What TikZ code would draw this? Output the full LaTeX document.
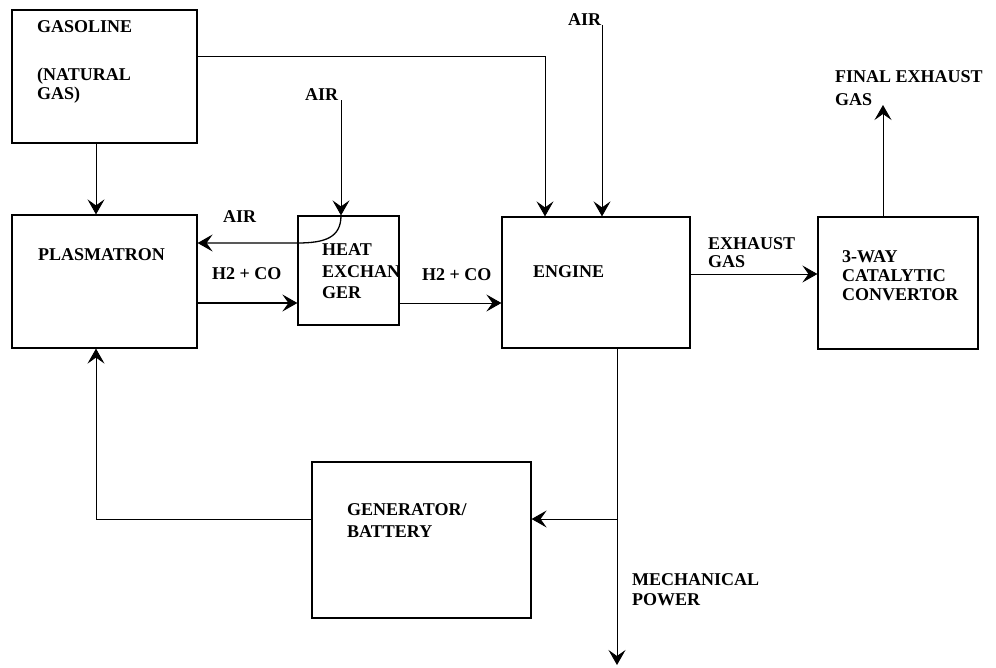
\documentclass[tikz,border=0pt]{standalone}
\usepackage{fontspec}
\setmainfont{Liberation Serif}[BoldFont={Liberation Serif Bold}]
\usetikzlibrary{arrows.meta,calc}

\begin{document}
\begin{tikzpicture}[x=1pt,y=-1pt,
  blk/.style={draw,line width=1.2pt,inner sep=0pt},
  lbl/.style={anchor=north west,inner sep=0pt,align=left,
    font=\bfseries\fontsize{18}{20}\selectfont},
  arr/.style={-{Stealth[length=15pt,width=17pt,inset=6pt]},line width=0.9pt}]
\useasboundingbox (0,0) rectangle (996,667);

% blocks
\node[blk,minimum width=185pt,minimum height=133pt] (gas) at (104.5,76.5) {};
\node[blk,minimum width=185pt,minimum height=133pt] (plas) at (104.5,281.5) {};
\node[blk,minimum width=101pt,minimum height=109pt] (hx) at (348.5,270.5) {};
\node[blk,minimum width=188pt,minimum height=131pt] (eng) at (596,282.5) {};
\node[blk,minimum width=160pt,minimum height=132pt] (cat) at (898,283) {};
\node[blk,minimum width=219pt,minimum height=156pt] (gen) at (421.5,540) {};

% texts
\node[lbl] (gasT) at (37,20) {GASOLINE\\[28pt](NATURAL\\[-1pt]GAS)};
\node[lbl] (plasT) at (38,248) {PLASMATRON};
\node[lbl] (hxT) at (322,243) {HEAT\\[2pt]EXCHAN\\[1pt]GER};
\node[lbl] (engT) at (533,265) {ENGINE};
\node[lbl] (catT) at (842,250) {3-WAY\\[-1pt]CATALYTIC\\[-1pt]CONVERTOR};
\node[lbl] (genT) at (347,503) {GENERATOR/\\[2pt]BATTERY};

\node[lbl] (airE) at (568,13) {AIR};
\node[lbl] (airH) at (305,88) {AIR};
\node[lbl] (airP) at (223,210) {AIR};
\node[lbl] (synA) at (212,267) {H2 + CO};
\node[lbl] (synB) at (422,268) {H2 + CO};
\node[lbl] (exh) at (708,237) {EXHAUST\\[-2pt]GAS};
\node[lbl] (finT) at (835,70) {FINAL EXHAUST\\[3pt]GAS};
\node[lbl] (mechT) at (632,573) {MECHANICAL\\POWER};

\coordinate (fin) at (883,105);
\coordinate (mech) at (617,665);
\coordinate (ret) at ([yshift=38.5pt]plas.east -| hx.west);

% fuel
\draw[arr] ([xshift=-8.5pt]gas.south) -- ([xshift=-8.5pt]plas.north);
\draw[arr] ([yshift=20.5pt]gas.east) -| ([xshift=-51pt]eng.north);

% air
\draw[arr] ([xshift=6pt]eng.north |- airE.south) -- ([xshift=6pt]eng.north);
\draw[arr] ([xshift=-7.5pt]hx.north |- airH.south) -- ([xshift=-7.5pt]hx.north);
\draw[arr,line width=1.3pt] ([xshift=-7.5pt]hx.north) .. controls +(0,22) and +(28,0) .. (ret)
  -- ([yshift=38.5pt]plas.east);

% reformate
\draw[arr,line width=1.3pt] ([yshift=-21.5pt]plas.east) -- ([yshift=-21.5pt]plas.east -| hx.west);
\draw[arr] ([yshift=-32.5pt]hx.east) -- ([yshift=-32.5pt]hx.east -| eng.west);

% exhaust
\draw[arr] ([yshift=8.5pt]eng.east) -- ([yshift=8.5pt]eng.east -| cat.west);
\draw[arr] ([xshift=-15pt]cat.north) -- (fin);

% power
\draw[arr] ([xshift=21pt]eng.south) -- (mech);
\draw[arr] ([yshift=21pt]gen.east -| mech) -- ([yshift=21pt]gen.east);
\draw[arr] ([yshift=21pt]gen.west) -| ([xshift=-8.5pt]plas.south);

\end{tikzpicture}
\end{document}
